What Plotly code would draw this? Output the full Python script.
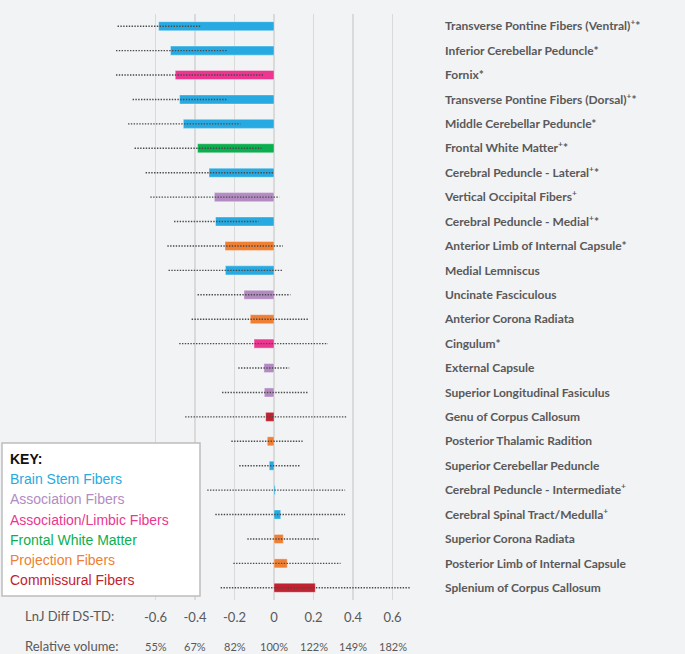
import plotly.graph_objects as go

categories = [
    "Transverse Pontine Fibers (Ventral)<sup>+</sup>*",
    "Inferior Cerebellar Peduncle*",
    "Fornix*",
    "Transverse Pontine Fibers (Dorsal)<sup>+</sup>*",
    "Middle Cerebellar Peduncle*",
    "Frontal White Matter<sup>+</sup>*",
    "Cerebral Peduncle - Lateral<sup>+</sup>*",
    "Vertical Occipital Fibers<sup>+</sup>",
    "Cerebral Peduncle - Medial<sup>+</sup>*",
    "Anterior Limb of Internal Capsule*",
    "Medial Lemniscus",
    "Uncinate Fasciculous",
    "Anterior Corona Radiata",
    "Cingulum*",
    "External Capsule",
    "Superior Longitudinal Fasiculus",
    "Genu of Corpus Callosum",
    "Posterior Thalamic Radition",
    "Superior Cerebellar Peduncle",
    "Cerebral Peduncle - Intermediate<sup>+</sup>",
    "Cerebral Spinal Tract/Medulla<sup>+</sup>",
    "Superior Corona Radiata",
    "Posterior Limb of Internal Capsule",
    "Splenium of Corpus Callosum",
]
values = [-0.584, -0.524, -0.500, -0.478, -0.459, -0.387, -0.329, -0.302, -0.296, -0.248,
          -0.246, -0.152, -0.120, -0.101, -0.051, -0.049, -0.042, -0.034, -0.024, 0.006,
          0.034, 0.047, 0.067, 0.209]
ci_low = [-0.792, -0.800, -0.800, -0.716, -0.739, -0.706, -0.650, -0.626, -0.506, -0.540,
          -0.534, -0.387, -0.417, -0.480, -0.181, -0.263, -0.450, -0.216, -0.176, -0.338,
          -0.297, -0.135, -0.206, -0.270]
ci_high = [-0.373, -0.240, -0.050, -0.238, -0.170, -0.063, -0.002, 0.027, -0.079, 0.045,
           0.045, 0.083, 0.177, 0.273, 0.077, 0.170, 0.371, 0.145, 0.133, 0.360,
           0.360, 0.231, 0.337, 0.690]
groups = ["Brain Stem Fibers", "Brain Stem Fibers", "Association/Limbic Fibers", "Brain Stem Fibers",
          "Brain Stem Fibers", "Frontal White Matter", "Brain Stem Fibers", "Association Fibers",
          "Brain Stem Fibers", "Projection Fibers", "Brain Stem Fibers", "Association Fibers",
          "Projection Fibers", "Association/Limbic Fibers", "Association Fibers", "Association Fibers",
          "Commissural Fibers", "Projection Fibers", "Brain Stem Fibers", "Brain Stem Fibers",
          "Brain Stem Fibers", "Projection Fibers", "Projection Fibers", "Commissural Fibers"]
key_names = ["Brain Stem Fibers", "Association Fibers", "Association/Limbic Fibers",
             "Frontal White Matter", "Projection Fibers", "Commissural Fibers"]
key_colors = ["#27AAE1", "#B38BC2", "#EC368F", "#0BAF4F", "#EF7F33", "#C1222F"]
tick_values = [-0.6, -0.4, -0.2, 0, 0.2, 0.4, 0.6]
tick_labels = ["-0.6", "-0.4", "-0.2", "0", "0.2", "0.4", "0.6"]
rel_volume = ["55%", "67%", "82%", "100%", "122%", "149%", "182%"]

color_of = dict(zip(key_names, key_colors))
bar_colors = [color_of[g] for g in groups]

fig = go.Figure()
fig.add_trace(go.Bar(
    x=values, y=categories, orientation="h",
    marker=dict(color=bar_colors, line=dict(color="rgba(255,255,255,0.35)", width=1)),
    width=0.37, showlegend=False, hoverinfo="skip"))

ex, ey = [], []
for c, a, b in zip(categories, ci_low, ci_high):
    ex += [a, b, None]
    ey += [c, c, None]
fig.add_trace(go.Scatter(x=ex, y=ey, mode="lines",
                         line=dict(color="#4a4a4a", width=1.4, dash="1.4px,1.4px"),
                         showlegend=False, hoverinfo="skip"))

grey = "#595959"
bg = "#F2F3F5"
W, H = 685, 654
L, R, T, B = 116, 253, 14, 54
pw, ph = W - L - R, H - T - B

def px(xpix):
    return (xpix - L) / pw

def py(ypix):
    return (T + ph - ypix) / ph

annotations = []
for v, lab in zip(tick_values, rel_volume):
    annotations.append(dict(x=v, xref="x", y=0, yref="paper", yshift=-46, text=lab,
                            showarrow=False, xanchor="center", yanchor="middle",
                            font=dict(family="Lato, sans-serif", size=11, color=grey)))
annotations.append(dict(x=px(69), xref="paper", y=py(616), yref="paper", text="LnJ Diff DS-TD:",
                        showarrow=False, xanchor="center", yanchor="middle",
                        font=dict(family="Lato, sans-serif", size=13, color=grey)))
annotations.append(dict(x=px(71), xref="paper", y=py(646), yref="paper", text="Relative volume:",
                        showarrow=False, xanchor="center", yanchor="middle",
                        font=dict(family="Lato, sans-serif", size=13, color=grey)))

key_font = "Liberation Sans, Arial, sans-serif"
annotations.append(dict(x=px(8), xref="paper", y=py(459), yref="paper", text="<b>KEY:</b>",
                        showarrow=False, xanchor="left", yanchor="middle",
                        font=dict(family=key_font, size=14, color="#111111")))
for i, (n, c) in enumerate(zip(key_names, key_colors)):
    annotations.append(dict(x=px(8), xref="paper", y=py(479.3 + 20.1 * i), yref="paper", text=n,
                            showarrow=False, xanchor="left", yanchor="middle",
                            font=dict(family=key_font, size=14, color=c)))

shapes = [dict(type="rect", xref="paper", yref="paper", x0=px(2), x1=px(200), y0=py(596), y1=py(443),
               fillcolor="white", line=dict(color="#BDBDBD", width=1.5), layer="above")]

fig.update_layout(
    width=W, height=H, margin=dict(l=L, r=R, t=T, b=B),
    paper_bgcolor=bg, plot_bgcolor=bg,
    bargap=0.63,
    xaxis=dict(range=[-0.8, 0.8], tickvals=[-0.8] + tick_values + [0.8],
               ticktext=[" "] + tick_labels + [" "],
               showgrid=True, gridcolor="#DADADA", gridwidth=1.5,
               zeroline=True, zerolinecolor="#DADADA", zerolinewidth=1.5,
               showline=False, ticks="", ticklabelstandoff=8,
               tickfont=dict(family="Lato, sans-serif", size=13, color=grey), fixedrange=True),
    yaxis=dict(range=[len(categories) - 0.5, -0.5], side="right", showgrid=False, zeroline=False,
               showline=False, ticks="", ticklabelstandoff=12, automargin=False, fixedrange=True,
               tickfont=dict(family="Lato, sans-serif", size=12, color=grey, weight="bold")),
    annotations=annotations, shapes=shapes,
)
fig.write_html("out.html", config={"displayModeBar": False, "staticPlot": True},
               post_script="document.body.style.margin='0px';document.body.style.padding='0px';"
                           "document.body.style.overflow='hidden';")
